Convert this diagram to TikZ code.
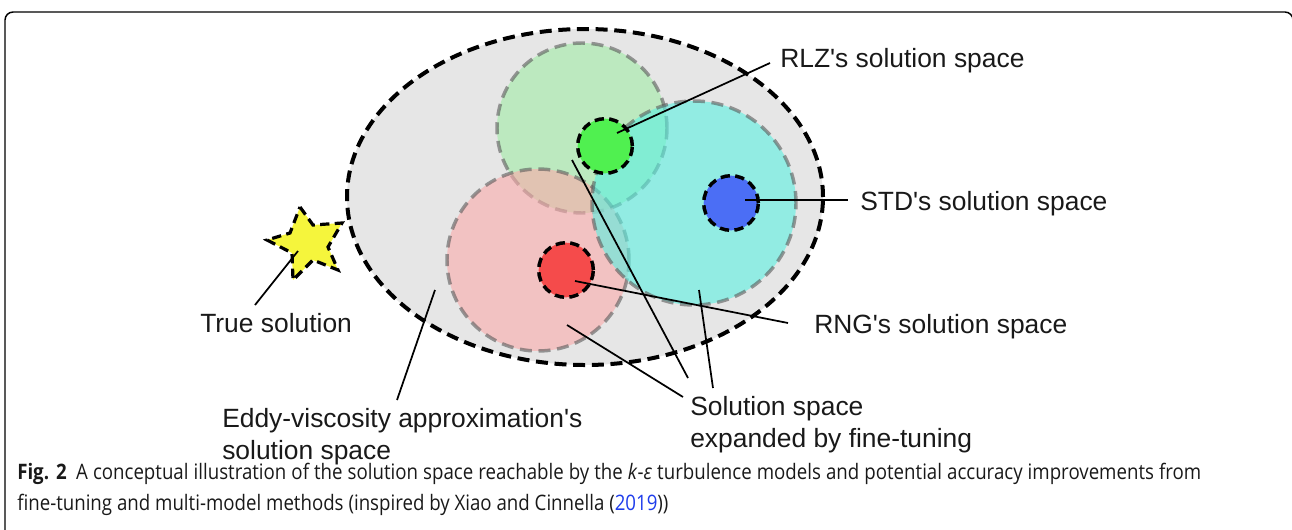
\documentclass[tikz,border=0pt]{standalone}
\usepackage{fontspec}
\setmainfont{Liberation Sans}[Ligatures=TeXOff]
\newfontfamily\capfont[FakeStretch=0.875]{Open Sans}
\usetikzlibrary{shapes.geometric}

\definecolor{evmgray}{RGB}{230,230,230}
\definecolor{rlzwide}{RGB}{160,235,165}
\definecolor{stdwide}{RGB}{90,240,225}
\definecolor{rngwide}{RGB}{250,170,170}
\definecolor{rlzcore}{RGB}{80,240,80}
\definecolor{stdcore}{RGB}{75,110,245}
\definecolor{rngcore}{RGB}{245,75,75}
\definecolor{truefill}{RGB}{245,245,60}
\definecolor{rimgray}{RGB}{90,90,90}
\definecolor{inkblack}{RGB}{25,25,25}
\definecolor{linkblue}{RGB}{30,60,235}

\tikzset{
  outerrim/.style={draw=black, line width=3pt, dash pattern=on 9pt off 5pt},
  widerim/.style={draw=rimgray, line width=2.6pt, dash pattern=on 9pt off 5pt},
  corerim/.style={draw=black, line width=2.6pt, dash pattern=on 7pt off 4pt},
  widespace/.style={circle, inner sep=0pt, widerim, opacity=0.6},
  corespace/.style={circle, inner sep=0pt, corerim, minimum size=41pt},
  leader/.style={draw=black, line width=1.3pt},
  tag/.style={anchor=base west, inner sep=0pt, text=inkblack,
              font=\fontsize{19.8}{23}\selectfont},
  capline/.style={anchor=base west, inner sep=0pt, text=inkblack,
                  font=\capfont\fontsize{16}{19}\selectfont}
}

\begin{document}
\begin{tikzpicture}[x=0.75pt, y=-0.75pt]
\useasboundingbox (0,0) rectangle (1292,529);

% figure frame (open at the bottom)
\draw[line width=1.1pt, rounded corners=6pt] (5,545) -- (5,12) -- (1293,12) -- (1293,545);

% eddy-viscosity solution space
\node[ellipse, fill=evmgray, outerrim, inner sep=0pt,
      minimum width=357pt, minimum height=252pt] (evm) at (585,197) {};

% solution spaces expanded by fine-tuning
\node[widespace, fill=rlzwide, minimum size=127.5pt] (rlzwide) at (582,128) {};
\node[widespace, fill=rngwide, minimum size=136.5pt] (rngwide) at (538,260) {};
\node[widespace, fill=stdwide, minimum size=153pt] (stdwide) at (694,203) {};

% model solution spaces
\node[corespace, fill=rlzcore] (rlz) at (605,146) {};
\node[corespace, fill=stdcore] (std) at (731,203) {};
\node[corespace, fill=rngcore] (rng) at (566,270) {};

% true solution
\draw[fill=truefill, corerim, line width=2.4pt, line join=miter]
  (300,207) -- (313,225) -- (342,223) -- (328,247) -- (338,270)
  -- (313,260) -- (293,280) -- (292,253) -- (267,240) -- (290,233) -- cycle;
\coordinate (truept) at (298,251);

% labels
\node[tag] (rlztag) at (780,67) {RLZ's solution space};
\node[tag] (stdtag) at (860,210) {STD's solution space};
\node[tag] (rngtag) at (814,333) {RNG's solution space};
\node[tag] (truetag) at (200,332) {True solution};
\node[tag] (evmtag1) at (222,427) {Eddy-viscosity approximation's};
\node[tag] (evmtag2) at (222,459) {solution space};
\node[tag] (fttag1) at (690,415) {Solution space};
\node[tag] (fttag2) at (690,447) {expanded by fine-tuning};

% leader line end points
\coordinate (rlzpt) at (617,133);
\coordinate (rlzend) at (770,63);
\coordinate (stdpt) at (745,200);
\coordinate (stdend) at (848,200);
\coordinate (rngpt) at (575,281);
\coordinate (rngend) at (788,323);
\coordinate (trueend) at (255,305);
\coordinate (evmpt) at (435,290);
\coordinate (evmend) at (397,400);
\coordinate (rngwidept) at (567,325);
\coordinate (rlzwidept) at (572,160);
\coordinate (stdwidept) at (699,290);
\coordinate (ftend1) at (683,397);
\coordinate (ftend2) at (688,378);
\coordinate (ftend3) at (713,388);

% leader lines
\draw[leader] (rlzpt) -- (rlzend);
\draw[leader] (stdpt) -- (stdend);
\draw[leader] (rngpt) -- (rngend);
\draw[leader] (truept) -- (trueend);
\draw[leader] (evmpt) -- (evmend);
\draw[leader] (rngwidept) -- (ftend1);
\draw[leader] (rlzwidept) -- (ftend2);
\draw[leader] (stdwidept) -- (ftend3);

% caption (first line set full width, as in a justified paragraph)
\node[capline] (cap1) at (17,479) {\makebox[888pt][s]{\textbf{Fig. 2}\hspace{7pt}A conceptual illustration of the solution space reachable by the \textit{k}-\textit{ε} turbulence models and potential accuracy improvements from}};
\node[capline] (cap2) at (17,510) {fine-tuning and multi-model methods (inspired by Xiao and Cinnella (\textcolor{linkblue}{2019}))};
\end{tikzpicture}
\end{document}
